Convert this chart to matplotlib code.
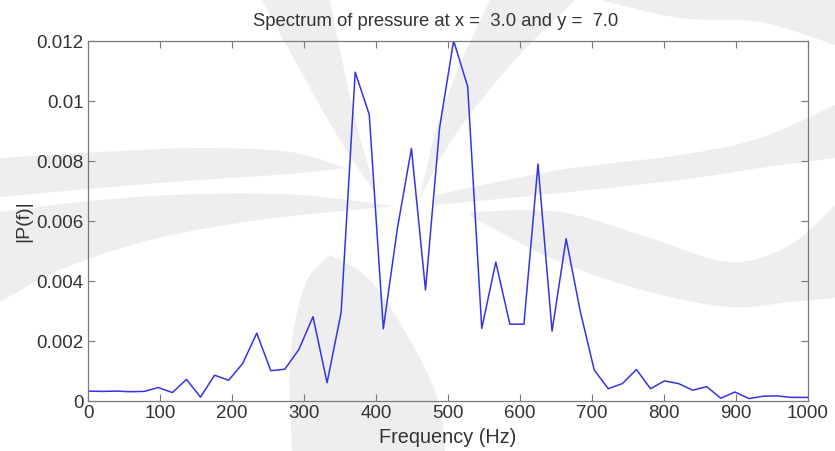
import numpy as np
import matplotlib
matplotlib.use("Agg")
import matplotlib.pyplot as plt
from matplotlib.patches import Polygon

# Frequency bins (Hz) and spectrum magnitude |P(f)|
df = 10000.0 / 512.0
magnitude = [
    0.00033, 0.00032, 0.00033, 0.00031, 0.00032, 0.00045, 0.00028, 0.00072,
    0.00013, 0.00086, 0.00069, 0.00125, 0.00226, 0.00101, 0.00106, 0.00172,
    0.00281, 0.00061, 0.00295, 0.01096, 0.00955, 0.00241, 0.00575, 0.00842,
    0.00370, 0.00910, 0.01201, 0.01048, 0.00242, 0.00463, 0.00256, 0.00256,
    0.00790, 0.00233, 0.00541, 0.00300, 0.00103, 0.00041, 0.00058, 0.00105,
    0.00041, 0.00067, 0.00058, 0.00036, 0.00048, 0.00009, 0.00030, 0.00008,
    0.00016, 0.00017, 0.00012, 0.00012, 0.00012,
]
frequency = [i * df for i in range(len(magnitude))]

title_text = "Spectrum of pressure at x =  3.0 and y =  7.0"
x_label = "Frequency (Hz)"
y_label = "|P(f)|"
x_ticks = [0, 100, 200, 300, 400, 500, 600, 700, 800, 900, 1000]
y_ticks = [0, 0.002, 0.004, 0.006, 0.008, 0.010, 0.012]
y_tick_labels = ["0", "0.002", "0.004", "0.006", "0.008", "0.01", "0.012"]

plt.rcParams["font.family"] = ["Liberation Sans", "DejaVu Sans"]

W, H = 835, 451
fig = plt.figure(figsize=(W / 100, H / 100), dpi=100)


def smooth(points, n=60):
    """Catmull-Rom curve through the given points."""
    p = np.asarray(points, dtype=float)
    p = np.vstack([p[0], p, p[-1]])
    out = []
    for i in range(1, len(p) - 2):
        p0, p1, p2, p3 = p[i - 1], p[i], p[i + 1], p[i + 2]
        t = np.linspace(0, 1, n, endpoint=False)[:, None]
        out.append(0.5 * ((2 * p1) + (-p0 + p2) * t
                          + (2 * p0 - 5 * p1 + 4 * p2 - p3) * t ** 2
                          + (-p0 + 3 * p1 - 3 * p2 + p3) * t ** 3))
    out.append(p[-2][None, :])
    return np.vstack(out)


# faint background emblem in pixel space (origin top-left)
bg = fig.add_axes([0, 0, 1, 1], zorder=-5)
bg.set_xlim(0, W)
bg.set_ylim(H, 0)
bg.axis("off")
wm_color = "#eeeeee"
wm_bands = [
    # upper left swoosh
    ([(0, 158), (100, 152), (200, 148), (290, 152), (345, 168)],
     [(0, 197), (100, 188), (200, 180), (290, 174), (345, 168)]),
    # lower left swoosh
    ([(0, 212), (100, 200), (200, 194), (300, 195), (395, 206)],
     [(0, 302), (60, 270), (150, 240), (260, 220), (395, 206)]),
    # upper right swoosh
    ([(435, 195), (560, 170), (680, 155), (760, 138), (835, 105)],
     [(435, 205), (560, 193), (680, 180), (760, 168), (835, 158)]),
    # lower right swoosh
    ([(470, 212), (560, 212), (650, 238), (730, 262), (790, 245), (835, 205)],
     [(470, 216), (560, 262), (650, 292), (730, 307), (790, 302), (835, 298)]),
    # central flame, left part
    ([(262, 0), (300, 70), (340, 140), (378, 198)],
     [(330, 0), (342, 60), (358, 130), (378, 198)]),
    # central flame, right part
    ([(490, 0), (462, 60), (436, 130), (420, 198)],
     [(575, 0), (515, 60), (455, 135), (420, 198)]),
    # top right arc
    ([(600, 0), (835, 0)],
     [(600, 0), (680, 18), (760, 22), (835, 45)]),
    # central base
    ([(292, 451), (290, 360), (305, 285), (330, 255)],
     [(445, 451), (438, 400), (410, 340), (370, 280), (330, 255)]),
]
for upper, lower in wm_bands:
    outline = np.vstack([smooth(upper), smooth(lower)[::-1]])
    bg.add_patch(Polygon(outline, closed=True, facecolor=wm_color,
                         edgecolor="none"))

ax = fig.add_axes([88 / W, 50 / H, 720 / W, 360 / H], zorder=1)
ax.patch.set_alpha(0)

ax.plot(frequency, magnitude, color="#3434e6", linewidth=1.1)

ax.set_xlim(0, 1000)
ax.set_ylim(0, 0.012)
ax.set_xticks(x_ticks)
ax.set_yticks(y_ticks)
ax.set_yticklabels(y_tick_labels)

text_color = "#333333"
axis_color = "#7a7a7a"
for s in ax.spines.values():
    s.set_color(axis_color)
    s.set_linewidth(0.9)
ax.tick_params(direction="in", length=5, width=0.8, color=axis_color,
               top=True, right=True, labelsize=13.5, labelcolor=text_color, pad=3)

ax.set_title(title_text, fontsize=13.3, color=text_color, pad=11, x=0.483)
ax.set_xlabel(x_label, fontsize=14.3, color=text_color, labelpad=4)
ax.set_ylabel(y_label, fontsize=14, color=text_color, labelpad=3)

fig.savefig("out.png", dpi=100, facecolor="white")
